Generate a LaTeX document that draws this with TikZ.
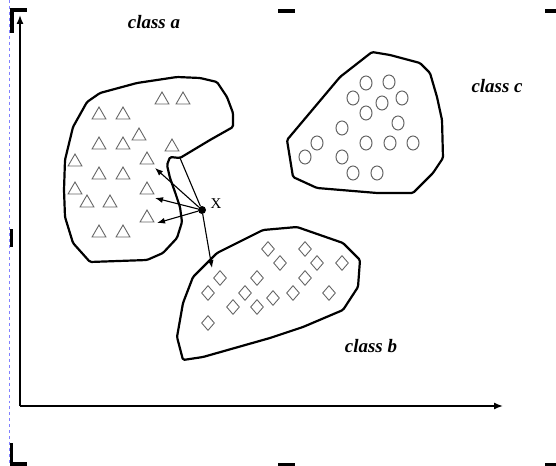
\documentclass[tikz,border=0pt]{standalone}
\usepackage{fontspec}
\setmainfont{Liberation Serif}
\usetikzlibrary{arrows.meta,shapes.geometric}

\begin{document}
\begin{tikzpicture}[x=1bp,y=-1bp,>=Latex,
  blob/.style={draw=black,line width=2.2bp,line join=round,rounded corners=1.5bp},
  tri/.style={draw=black!60,regular polygon,regular polygon sides=3,minimum size=16bp,inner sep=0pt,line width=0.9bp},
  dia/.style={draw=black!60,diamond,minimum width=13bp,minimum height=15bp,inner sep=0pt,line width=0.9bp},
  circ/.style={draw=black!60,ellipse,minimum width=12bp,minimum height=14bp,inner sep=0pt,line width=1bp},
  classlbl/.style={font=\fontsize{19}{19}\selectfont\bfseries\itshape,inner sep=0pt},
  probe/.style={-{Latex[length=8bp,width=6bp]},line width=1.1bp},
  handle/.style={fill=black}]
\useasboundingbox (0,0) rectangle (556,466);
\draw[blue!50,dashed,line width=0.6bp] (9,0) -- (9,466);
\fill[handle] (10,8) rectangle (27,12);
\fill[handle] (10,8) rectangle (14,33);
\fill[handle] (278,9) rectangle (295,13);
\fill[handle] (545,9) rectangle (556,13);
\fill[handle] (10,229) rectangle (13,247);
\fill[handle] (10,443) rectangle (13,466);
\fill[handle] (10,462) rectangle (27,466);
\fill[handle] (278,463) rectangle (295,466);
\fill[handle] (545,463) rectangle (556,466);
\coordinate (origin) at (20,406);
\coordinate (ytip) at (20,15);
\coordinate (xtip) at (503,406);
\draw[-{Latex[length=9bp,width=7bp]},line width=1.4bp] (origin) -- (ytip);
\draw[-{Latex[length=9bp,width=7bp]},line width=1.4bp] (origin) -- (xtip);
\draw[blob] (87,102) -- (100,93) -- (137,83) -- (177,77) -- (200,78) -- (217,82) -- (227,97) -- (233,113) -- (233,127) -- (210,140) -- (180,158) -- (170,157) -- (167,165) -- (170,178) -- (175,192) -- (180,207) -- (182,222) -- (177,238) -- (163,253) -- (147,260) -- (90,262) -- (73,243) -- (65,217) -- (64,190) -- (65,160) -- (73,127) -- cycle;
\draw[blob] (183,360) -- (177,337) -- (183,303) -- (193,277) -- (203,267) -- (217,253) -- (263,230) -- (297,227) -- (343,243) -- (360,260) -- (358,287) -- (343,310) -- (303,327) -- (270,338) -- (203,357) -- cycle;
\draw[blob] (287,140) -- (340,77) -- (372,52) -- (390,55) -- (420,63) -- (430,73) -- (437,97) -- (442,120) -- (443,158) -- (433,173) -- (413,193) -- (377,193) -- (317,188) -- (293,177) -- cycle;
\foreach \p [count=\i] in {(162,100),(183,100),(99,115),(123,115),(139,136),(99,145),(123,145),(172,147),(75,162),(147,160),(99,175),(123,175),(75,190),(147,190),(87,203),(110,203),(147,218),(99,233),(123,233)}
  \node[tri] (ta\i) at \p {};
\foreach \p [count=\i] in {(268,249),(305,249),(280,263),(317,263),(342,263),(220,278),(257,278),(305,278),(208,293),(245,293),(273,298),(293,293),(329,293),(233,307),(257,307),(208,323)}
  \node[dia] (db\i) at \p {};
\foreach \p [count=\i] in {(366,83),(389,82),(353,98),(382,103),(402,98),(366,113),(398,123),(342,128),(317,143),(366,143),(390,143),(413,143),(305,157),(342,157),(353,173),(377,173)}
  \node[circ] (cc\i) at \p {};
\node[classlbl] (lbla) at (154,22) {class a};
\node[classlbl] (lblc) at (497,86) {class c};
\node[classlbl] (lblb) at (371,346) {class b};
\node[circle,fill=black,inner sep=0pt,minimum size=8bp] (xpt) at (202,210) {};
\node[font=\fontsize{15}{15}\selectfont,inner sep=0pt] (xlab) at (216,204) {X};
\coordinate (vtx) at (180,158);
\coordinate (e1) at (155,168);
\coordinate (e2) at (155,198);
\coordinate (e3) at (157,223);
\coordinate (e4) at (212,268);
\draw[line width=1.1bp] (xpt) -- (vtx);
\draw[probe] (xpt) -- (e1);
\draw[probe] (xpt) -- (e2);
\draw[probe] (xpt) -- (e3);
\draw[probe] (xpt) -- (e4);
\end{tikzpicture}
\end{document}
